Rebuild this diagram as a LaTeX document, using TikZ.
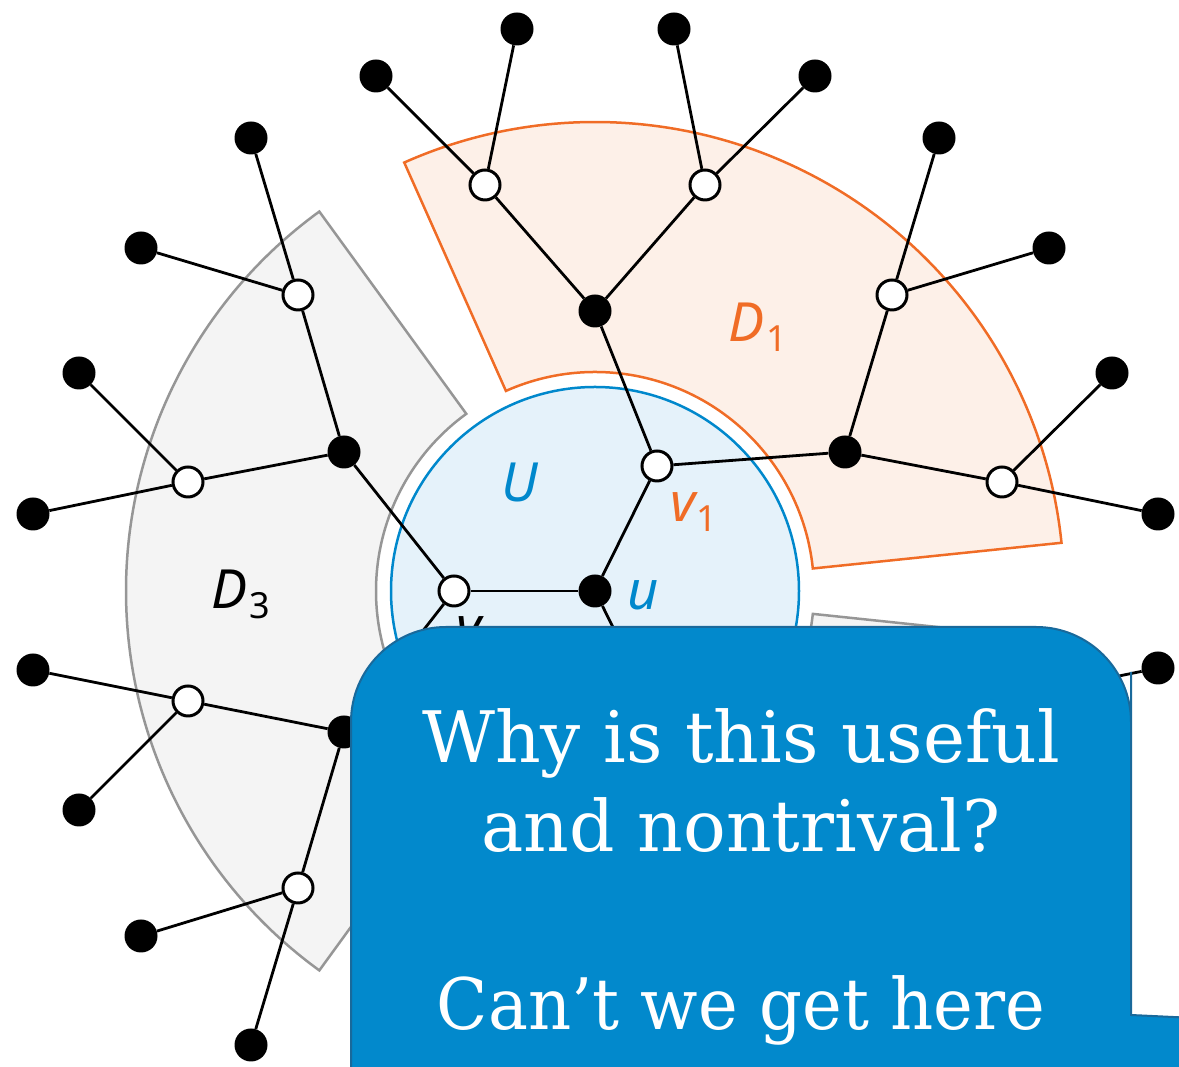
\documentclass[tikz,border=0pt]{standalone}
\usepackage{fontspec}
\newfontfamily\lblfont{Noto Sans}
\newfontfamily\slabfont{DejaVu Serif}
\definecolor{orng}{RGB}{240,108,38}
\definecolor{orngfill}{RGB}{253,240,232}
\definecolor{gryline}{RGB}{150,150,150}
\definecolor{gryfill}{RGB}{244,244,244}
\definecolor{bluline}{RGB}{0,136,204}
\definecolor{blufill}{RGB}{229,242,250}
\definecolor{bubfill}{RGB}{2,137,204}
\definecolor{bubline}{RGB}{25,105,155}
\newcommand\subf{\upshape\fontsize{36}{36}\selectfont}
\begin{document}
\begin{tikzpicture}[x=1pt,y=1pt,
  blk/.style={circle,fill=black,inner sep=0,minimum size=33},
  wht/.style={circle,fill=white,draw=black,line width=3,inner sep=0,minimum size=30},
  edge/.style={line width=2.8},
  lab/.style={inner sep=0,font=\lblfont\itshape\fontsize{54}{54}\selectfont},
  sect/.style={line width=2.5},
  bubtext/.style={text=white,inner sep=0,anchor=base,font=\slabfont\fontsize{71}{89}\selectfont}]
\useasboundingbox (0,0) rectangle (1179,1067);
\clip (0,0) rectangle (1179,1067);
% sectors
\begin{scope}[shift={(595,476)}]
\filldraw[sect,fill=orngfill,draw=orng] (5.9:219) -- (5.9:469) arc[start angle=5.9,end angle=114,radius=469] -- (114:219) arc[start angle=114,end angle=5.9,radius=219] -- cycle;
\filldraw[sect,fill=gryfill,draw=gryline] (126:219) -- (126:469) arc[start angle=126,end angle=234,radius=469] -- (234:219) arc[start angle=234,end angle=126,radius=219] -- cycle;
\filldraw[sect,fill=gryfill,draw=gryline] (246:219) -- (246:469) arc[start angle=246,end angle=354,radius=469] -- (354:219) arc[start angle=354,end angle=246,radius=219] -- cycle;
\filldraw[line width=2.5,fill=blufill,draw=bluline] (0,0) circle[radius=204];
\end{scope}
% nodes
\node[blk] (u) at (595,476) {};
\node[wht] (v1) at (657,601) {};
\node[wht] (v2) at (657,351) {};
\node[wht] (v3) at (454,476) {};
\node[blk] (a1) at (595,756) {};
\node[blk] (a2) at (845,615) {};
\node[blk] (b1) at (344,615) {};
\node[blk] (b2) at (344,335) {};
\node[blk] (c1) at (845,337) {};
\node[blk] (c2) at (595,196) {};
\node[wht] (p1) at (485,882) {};
\node[wht] (p2) at (705,882) {};
\node[wht] (p3) at (892,772) {};
\node[wht] (p4) at (1002,585) {};
\node[wht] (p5) at (298,772) {};
\node[wht] (p6) at (188,585) {};
\node[wht] (p7) at (188,366) {};
\node[wht] (p8) at (298,179) {};
\node[wht] (p9) at (1002,367) {};
\node[wht] (p10) at (892,180) {};
\node[wht] (p11) at (705,70) {};
\node[wht] (p12) at (485,70) {};
\node[blk] (q1) at (376,991) {};
\node[blk] (q2) at (517,1038) {};
\node[blk] (q3) at (674,1038) {};
\node[blk] (q4) at (815,991) {};
\node[blk] (q5) at (939,929) {};
\node[blk] (q6) at (1049,819) {};
\node[blk] (q7) at (1112,694) {};
\node[blk] (q8) at (1158,553) {};
\node[blk] (q9) at (251,929) {};
\node[blk] (q10) at (141,819) {};
\node[blk] (q11) at (79,694) {};
\node[blk] (q12) at (33,553) {};
\node[blk] (q13) at (33,397) {};
\node[blk] (q14) at (79,257) {};
\node[blk] (q15) at (141,131) {};
\node[blk] (q16) at (251,22) {};
\node[blk] (q17) at (1158,399) {};
\node[blk] (q18) at (1112,258) {};
\node[blk] (q19) at (1049,133) {};
\node[blk] (q20) at (939,23) {};
\node[blk] (q21) at (815,-39) {};
\node[blk] (q22) at (674,-86) {};
\node[blk] (q23) at (376,-39) {};
\node[blk] (q24) at (517,-86) {};
% edges
\draw[edge] (u) -- (v1); \draw[edge] (u) -- (v2); \draw[edge] (u) -- (v3);
\draw[edge] (v1) -- (a1); \draw[edge] (v1) -- (a2);
\draw[edge] (v3) -- (b1); \draw[edge] (v3) -- (b2);
\draw[edge] (v2) -- (c1); \draw[edge] (v2) -- (c2);
\draw[edge] (a1) -- (p1); \draw[edge] (a1) -- (p2);
\draw[edge] (a2) -- (p3); \draw[edge] (a2) -- (p4);
\draw[edge] (b1) -- (p5); \draw[edge] (b1) -- (p6);
\draw[edge] (b2) -- (p7); \draw[edge] (b2) -- (p8);
\draw[edge] (c1) -- (p9); \draw[edge] (c1) -- (p10);
\draw[edge] (c2) -- (p11); \draw[edge] (c2) -- (p12);
\draw[edge] (p1) -- (q1); \draw[edge] (p1) -- (q2);
\draw[edge] (p2) -- (q3); \draw[edge] (p2) -- (q4);
\draw[edge] (p3) -- (q5); \draw[edge] (p3) -- (q6);
\draw[edge] (p4) -- (q7); \draw[edge] (p4) -- (q8);
\draw[edge] (p5) -- (q9); \draw[edge] (p5) -- (q10);
\draw[edge] (p6) -- (q11); \draw[edge] (p6) -- (q12);
\draw[edge] (p7) -- (q13); \draw[edge] (p7) -- (q14);
\draw[edge] (p8) -- (q15); \draw[edge] (p8) -- (q16);
\draw[edge] (p9) -- (q17); \draw[edge] (p9) -- (q18);
\draw[edge] (p10) -- (q19); \draw[edge] (p10) -- (q20);
\draw[edge] (p11) -- (q21); \draw[edge] (p11) -- (q22);
\draw[edge] (p12) -- (q23); \draw[edge] (p12) -- (q24);
% labels
\node[lab,text=bluline,anchor=base] (Ulab) at (520,565) {U};
\node[lab,text=bluline,anchor=base] (ulab) at (643,457) {u};
\node[lab,text=orng,anchor=base west] (v1lab) at (670,545) {v\kern1pt\raisebox{-10pt}{\subf 1}};
\node[lab,text=orng,anchor=base west] (D1lab) at (728,725) {D\kern2pt\raisebox{-10pt}{\subf 1}};
\node[lab,text=black,anchor=base west] (D3lab) at (211,458) {D\kern2pt\raisebox{-10pt}{\subf 3}};
\node[lab,text=black,anchor=base west] (v3lab) at (456,421) {v\kern1pt\raisebox{-10pt}{\subf 3}};
% speech bubble
\filldraw[fill=bubfill,draw=bubline,line width=2] (351,-80) [rounded corners=95] -- (351,440) -- (1131,440) -- (1131,300) [sharp corners] -- (1131,52) -- (1300,44) -- (1300,-80) -- cycle;
\node[bubtext] (t1) at (741,304) {Why is this useful};
\node[bubtext] (t2) at (741,215) {and nontrival?};
\node[bubtext] (t3) at (741,37) {\scalebox{0.945}[1]{Can’t we get here}};
\end{tikzpicture}
\end{document}
